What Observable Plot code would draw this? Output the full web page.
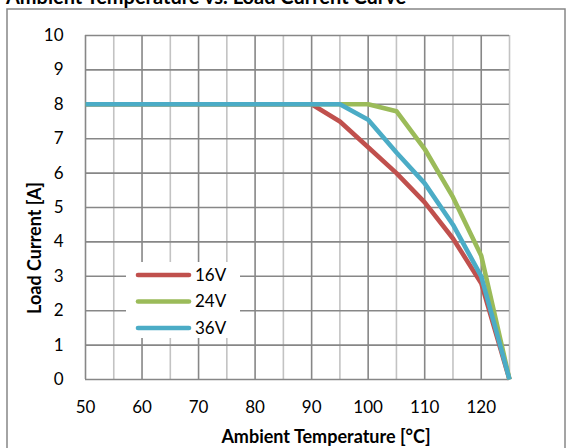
<!DOCTYPE html>
<html>
<head>
<meta charset="utf-8">
<script src="https://cdn.jsdelivr.net/npm/d3@7"></script>
<script src="https://cdn.jsdelivr.net/npm/@observablehq/plot@0.6"></script>
<style>
  html, body { margin: 0; padding: 0; background: #fff; }
  #chart { position: relative; width: 569px; height: 448px; overflow: hidden; font-family: Lato, "Liberation Sans", sans-serif; }
  #chart svg { display: block; }
</style>
</head>
<body>
<div id="chart"></div>
<script>
// ---- data ----
const temps = [50, 55, 60, 65, 70, 75, 80, 85, 90, 95, 100, 105, 110, 115, 120, 125];
const v16 = [8, 8, 8, 8, 8, 8, 8, 8, 8, 7.5, 6.75, 6.0, 5.15, 4.1, 2.8, 0];
const v24 = [8, 8, 8, 8, 8, 8, 8, 8, 8, 8, 8, 7.8, 6.7, 5.3, 3.6, 0];
const v36 = [8, 8, 8, 8, 8, 8, 8, 8, 8, 8, 7.55, 6.6, 5.7, 4.5, 3.0, 0];
const seriesNames = ["16V", "24V", "36V"];
const seriesColors = ["#C0504D", "#9BBB59", "#4BACC6"];
const xTickLabels = [50, 60, 70, 80, 90, 100, 110, 120];
const yTickLabels = [0, 1, 2, 3, 4, 5, 6, 7, 8, 9, 10];
const xMajorGrid = [50, 60, 70, 80, 90, 100, 110, 120];
const xMinorGrid = [55, 65, 75, 85, 95, 105, 115, 125];
const chartTitle = "Ambient Temperature vs. Load Current Curve";
const xTitle = "Ambient Temperature [°C]";
const yTitle = "Load Current [A]";

const seriesValues = [v16, v24, v36];
const rows = [];
seriesNames.forEach((s, i) => temps.forEach((t, j) => rows.push({ series: s, temp: t, current: seriesValues[i][j] })));

const dark = "#878787", light = "#c3c3c3";

const plot = Plot.plot({
  width: 569,
  height: 448,
  marginLeft: 85,
  marginRight: 60,
  marginTop: 35,
  marginBottom: 69,
  x: { domain: [50, 125] },
  y: { domain: [0, 10] },
  color: { domain: seriesNames, range: seriesColors },
  style: { fontFamily: "Lato, 'Liberation Sans', sans-serif", fontSize: "17px", color: "#000", background: "transparent" },
  marks: [
    Plot.ruleX(xMinorGrid, { stroke: light, strokeWidth: 1.6 }),
    Plot.ruleX(xMajorGrid, { stroke: dark, strokeWidth: 1.6 }),
    Plot.ruleY(yTickLabels, { stroke: dark, strokeWidth: 1.6 }),
    Plot.line(rows, { x: "temp", y: "current", z: "series", stroke: "series", strokeWidth: 4.6, strokeLinecap: "butt", strokeLinejoin: "round" }),
    Plot.axisX(xTickLabels, { tickSize: 0, tickPadding: 21, label: null, fontSize: 17 }),
    Plot.axisY(yTickLabels, { tickSize: 0, tickPadding: 22, label: null, fontSize: 17 })
  ]
});

document.getElementById("chart").appendChild(plot);

const svg = d3.select(plot);

// outer chart border
svg.append("rect")
  .attr("x", 7).attr("y", 9).attr("width", 558).attr("height", 450)
  .attr("fill", "none").attr("stroke", dark).attr("stroke-width", 1.5);

// chart title (partly cut off at top, as in the reference)
svg.append("text")
  .attr("x", 6).attr("y", 4)
  .attr("text-anchor", "start")
  .attr("font-size", 20).attr("font-weight", "bold")
  .attr("fill", "#000")
  .text(chartTitle);

// axis titles
svg.append("text")
  .attr("x", 326).attr("y", 443)
  .attr("text-anchor", "middle")
  .attr("font-size", 18).attr("font-weight", "bold")
  .attr("fill", "#000")
  .text(xTitle);

svg.append("text")
  .attr("transform", "translate(41,248) rotate(-90)")
  .attr("text-anchor", "middle")
  .attr("font-size", 18).attr("font-weight", "bold")
  .attr("fill", "#000")
  .text(yTitle);

// legend inside the plot area
const lg = svg.append("g");
lg.append("rect")
  .attr("x", 126).attr("y", 262).attr("width", 114).attr("height", 76)
  .attr("fill", "#fff");
const legendY = [275, 301.5, 328];
seriesNames.forEach((s, i) => {
  lg.append("line")
    .attr("x1", 138).attr("x2", 189)
    .attr("y1", legendY[i]).attr("y2", legendY[i])
    .attr("stroke", seriesColors[i]).attr("stroke-width", 4.6)
    .attr("stroke-linecap", "round");
  lg.append("text")
    .attr("x", 195).attr("y", legendY[i])
    .attr("dy", "0.35em")
    .attr("text-anchor", "start")
    .attr("font-size", 17)
    .attr("fill", "#000")
    .text(s);
});
</script>
</body>
</html>
